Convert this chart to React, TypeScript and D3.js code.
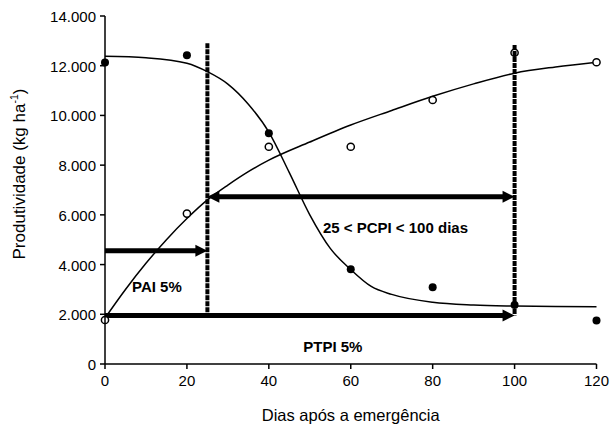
import React from "react";
import * as d3 from "d3";

// ---- data ----
const days = [0, 20, 40, 60, 80, 100, 120];
const filledValues = [12130, 12420, 9280, 3810, 3090, 2370, 1750];
const hollowValues = [1770, 6050, 8740, 8740, 10620, 12520, 12140];

const declineDays = [0, 10, 20, 25, 30, 35, 40, 45, 50, 55, 60, 65, 70, 80, 90, 100, 110, 120];
const declineFit = [12380, 12320, 12100, 11760, 11260, 10450, 9330, 7700, 6000, 4650, 3800, 3120, 2800, 2480, 2370, 2330, 2310, 2305];

const riseDays = [0, 5, 10, 15, 20, 25, 30, 35, 40, 50, 60, 70, 80, 90, 100, 110, 120];
const riseFit = [1850, 3000, 4050, 5000, 5850, 6600, 7200, 7740, 8200, 8930, 9615, 10200, 10770, 11270, 11700, 11950, 12140];

const xTicks = [0, 20, 40, 60, 80, 100, 120];
const xTickLabels = ["0", "20", "40", "60", "80", "100", "120"];
const yTicks = [0, 2000, 4000, 6000, 8000, 10000, 12000, 14000];
const yTickLabels = ["0", "2.000", "4.000", "6.000", "8.000", "10.000", "12.000", "14.000"];

const limitDays = [25, 100];
const limitTops = [12900, 12830];
const limitBottom = 1950;

const arrowFrom = [0, 25, 0];
const arrowTo = [25, 100, 100];
const arrowLevel = [4560, 6730, 1950];
const arrowBoth = [false, true, false];

const labelTexts = ["PAI 5%", "25 < PCPI < 100 dias", "PTPI 5%"];
const labelDays = [6.6, 53.2, 48.4];
const labelLevels = [2880, 5270, 500];

const xTitle = "Dias após a emergência";
const yTitle = "Produtividade (kg ha";

// ---- layout ----
const W = 613;
const H = 425;
const FONT = "'Liberation Sans', Arial, sans-serif";

export default function App() {
  const x = d3.scaleLinear().domain([0, 120]).range([105, 596.5]);
  const y = d3.scaleLinear().domain([0, 14000]).range([364, 16]);

  const declinePath = d3
    .line<number>()
    .curve(d3.curveMonotoneX)
    .x((_, i) => x(declineDays[i]))
    .y((d) => y(d))(declineFit) as string;
  const risePath = d3
    .line<number>()
    .curve(d3.curveMonotoneX)
    .x((_, i) => x(riseDays[i]))
    .y((d) => y(d))(riseFit) as string;

  const headLen = 12;
  const headHalf = 6;

  const arrows = arrowLevel.map((lv, i) => {
    const x1 = x(arrowFrom[i]);
    const x2 = x(arrowTo[i]);
    const yy = y(lv);
    const both = arrowBoth[i];
    const sx1 = both ? x1 + headLen - 1 : x1;
    const sx2 = x2 - headLen + 1;
    return (
      <g key={"a" + i}>
        <line x1={sx1} x2={sx2} y1={yy} y2={yy} stroke="#000" strokeWidth={5} />
        <path d={`M${x2},${yy} L${x2 - headLen},${yy - headHalf} L${x2 - headLen},${yy + headHalf} Z`} fill="#000" />
        {both && (
          <path d={`M${x1},${yy} L${x1 + headLen},${yy - headHalf} L${x1 + headLen},${yy + headHalf} Z`} fill="#000" />
        )}
      </g>
    );
  });

  return (
    <svg
      width={W}
      height={H}
      viewBox={`0 0 ${W} ${H}`}
      style={{ position: "absolute", left: 0, top: 0, background: "#fff" }}
      fontFamily={FONT}
    >
      <rect x={0} y={0} width={W} height={H} fill="#fff" />

      {/* fitted curves */}
      <path d={declinePath} fill="none" stroke="#000" strokeWidth={1.5} />
      <path d={risePath} fill="none" stroke="#000" strokeWidth={1.5} />

      {/* arrows */}
      {arrows}

      {/* points */}
      {days.map((d, i) => (
        <circle key={"f" + i} cx={x(d)} cy={y(filledValues[i])} r={4} fill="#000" />
      ))}
      {days.map((d, i) => (
        <circle key={"h" + i} cx={x(d)} cy={y(hollowValues[i])} r={3.6} fill="#fff" stroke="#000" strokeWidth={1.5} />
      ))}

      {/* vertical limit lines */}
      {limitDays.map((d, i) => (
        <line
          key={"v" + i}
          x1={x(d)}
          x2={x(d)}
          y1={y(limitTops[i])}
          y2={y(limitBottom)}
          stroke="#000"
          strokeWidth={4}
          strokeDasharray="5,1"
        />
      ))}

      {/* axes */}
      <line x1={x(0)} x2={x(0)} y1={y(14000)} y2={y(0)} stroke="#000" strokeWidth={1.5} />
      <line x1={x(0)} x2={x(120)} y1={y(0)} y2={y(0)} stroke="#000" strokeWidth={1.5} />
      {yTicks.map((t, i) => (
        <g key={"yt" + i}>
          <line x1={x(0) - 5} x2={x(0)} y1={y(t)} y2={y(t)} stroke="#000" strokeWidth={1.5} />
          <text x={96} y={y(t) + 6} textAnchor="end" fontSize={15} fill="#000">
            {yTickLabels[i]}
          </text>
        </g>
      ))}
      {xTicks.map((t, i) => (
        <g key={"xt" + i}>
          <line x1={x(t)} x2={x(t)} y1={y(0)} y2={y(0) + 5} stroke="#000" strokeWidth={1.5} />
          <text x={x(t)} y={385.5} textAnchor="middle" fontSize={15} fill="#000">
            {xTickLabels[i]}
          </text>
        </g>
      ))}

      {/* annotation labels */}
      {labelTexts.map((t, i) => (
        <text key={"l" + i} x={x(labelDays[i])} y={y(labelLevels[i])} fontSize={15} fontWeight="bold" fill="#000">
          {t}
        </text>
      ))}

      {/* axis titles */}
      <text x={350.7} y={421} textAnchor="middle" fontSize={16.5} fill="#000">
        {xTitle}
      </text>
      <text transform="translate(25,174) rotate(-90)" textAnchor="middle" fontSize={17} fill="#000">
        {yTitle}
        <tspan fontSize={10.5} dy={-7}>-1</tspan>
        <tspan dy={7}>)</tspan>
      </text>
    </svg>
  );
}
